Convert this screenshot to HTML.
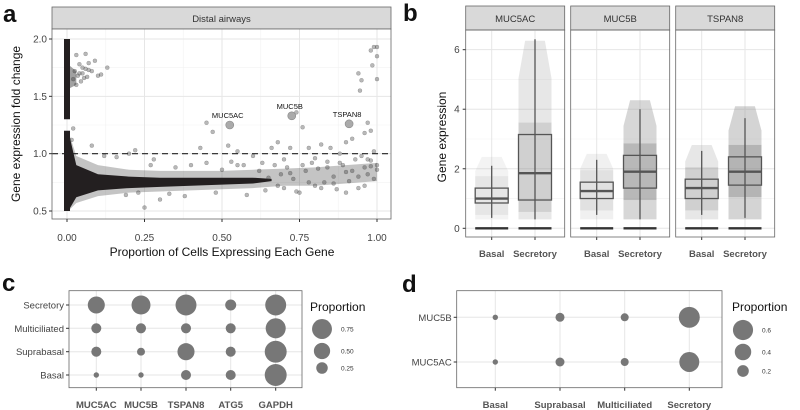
<!DOCTYPE html>
<html><head><meta charset="utf-8">
<style>
html,body{margin:0;padding:0;background:#fff;}
svg{display:block;font-family:"Liberation Sans",sans-serif;}
</style></head>
<body>
<svg id="fig" width="800" height="410" viewBox="0 0 800 410"></svg>
<script>
// ---------- Panel a data ----------
const aEnvP  = [0.004,0.03,0.1,0.2,0.3,0.4,0.5,0.6,0.66];
const aEnvLo = [0.5,0.62,0.68,0.7,0.71,0.72,0.73,0.74,0.76];
const aEnvHi = [1.2,0.9,0.82,0.8,0.79,0.79,0.79,0.79,0.78];
const aHaloP  = [0.004,0.03,0.1,0.2,0.3,0.4,0.5,0.6,0.7,0.8,0.9,1.0];
const aHaloLo = [0.5,0.57,0.63,0.66,0.67,0.68,0.69,0.7,0.72,0.72,0.74,0.76];
const aHaloHi = [1.2,0.98,0.9,0.86,0.85,0.85,0.85,0.86,0.87,0.88,0.9,0.92];
const aSpikeLo = [1.3];
const aSpikeHi = [2.0];
const aPointsX = [0.03,0.06,0.09,0.13,0.07,0.05,0.1,0.04,0.02,0.015,
 0.08,0.12,0.16,0.2,0.25,0.3,0.22,0.43,0.45,0.47,0.52,0.55,0.6,0.66,0.68,0.72,0.76,0.78,0.82,0.85,0.88,0.9,0.92,
 0.94,0.95,0.945,0.97,0.98,0.985,0.99,1.0,1.0,1.0,0.96,0.98,0.74,0.99,0.97,0.95,1.0,
 0.62,0.64,0.67,0.69,0.7,0.71,0.73,0.75,0.77,0.79,0.8,0.81,0.83,0.84,0.86,0.87,0.89,0.9,0.91,0.93,0.94,0.96,0.97,0.98,0.99,1.0,
 0.63,0.65,0.68,0.7,0.72,0.74,0.76,0.78,0.8,0.82,0.84,0.86,0.88,0.9,0.92,0.94,0.96,0.98,
 0.35,0.4,0.45,0.5,0.55,0.58,0.28,0.33,0.38,0.48,0.53,0.57,0.19,0.23,0.27,
 0.02,0.025,0.03,0.035,0.04,0.045,0.05,0.055,0.06,0.065,0.07,0.08,0.11];
const aPointsY = [1.86,1.87,1.81,1.75,1.79,1.75,1.68,1.7,1.22,1.12,
 1.07,0.98,0.97,1.0,0.53,0.6,1.03,1.05,1.27,1.19,1.07,1.02,0.98,1.05,1.1,1.05,1.23,1.05,1.08,1.05,1.0,1.1,1.13,
 1.7,1.64,1.55,1.27,1.9,1.77,1.93,1.85,1.65,1.93,1.18,1.2,1.36,1.02,0.95,0.98,0.9,
 0.85,0.68,0.9,0.82,0.7,0.88,0.78,0.66,0.85,0.92,0.72,0.87,0.75,0.93,0.8,0.69,0.9,0.84,0.76,0.95,0.7,0.88,0.82,0.94,0.78,0.86,
 0.92,0.79,0.72,0.95,0.83,0.67,0.9,0.75,0.96,0.7,0.88,0.74,0.92,0.66,0.85,0.8,0.72,0.89,
 0.88,0.9,0.92,0.86,0.9,0.64,0.95,0.65,0.63,0.66,0.93,0.9,0.64,0.66,0.9,
 1.65,1.72,1.6,1.68,1.78,1.63,1.7,1.66,1.74,1.67,1.73,1.72,1.69];
const aHighGenes = ["MUC5AC","MUC5B","TSPAN8"];
const aHighX = [0.525,0.725,0.91];
const aHighY = [1.25,1.33,1.26];
const aXTicks = [0,0.25,0.5,0.75,1];
const aXTickLabels = ["0.00","0.25","0.50","0.75","1.00"];
const aYTicks = [0.5,1.0,1.5,2.0];
const aYTickLabels = ["0.5","1.0","1.5","2.0"];

// ---------- Panel b data ----------
const bGenes = ["MUC5AC","MUC5B","TSPAN8"];
const bGroups = ["Basal","Secretory"];
const bQ1  = [[0.85,0.95],[1.0,1.35],[1.0,1.45]];
const bMed = [[1.0,1.85],[1.25,1.9],[1.35,1.9]];
const bQ3  = [[1.35,3.15],[1.55,2.45],[1.65,2.4]];
const bLo  = [[0.35,0.3],[0.45,0.3],[0.45,0.35]];
const bHi  = [[2.1,6.35],[2.3,4.0],[2.6,3.7]];
const bCloudHi = [[2.4,6.3],[2.5,4.3],[2.8,4.1]];
const bCloudDensity = [[0.2,0.4],[0.25,0.65],[0.4,0.7]];
const bYTicks = [0,2,4,6];

// ---------- Panel c data ----------
const cGenes = ["MUC5AC","MUC5B","TSPAN8","ATG5","GAPDH"];
const cCells = ["Secretory","Multiciliated","Suprabasal","Basal"];
const cProp = [
 [0.55,0.68,0.83,0.23,0.83],
 [0.19,0.19,0.19,0.19,0.76],
 [0.19,0.12,0.55,0.19,0.91],
 [0.055,0.055,0.19,0.19,0.91]];
const cLegend = [0.75,0.5,0.25];
const cLegendLabels = ["0.75","0.50","0.25"];

// ---------- Panel d data ----------
const dCells = ["Basal","Suprabasal","Multiciliated","Secretory"];
const dGenes = ["MUC5B","MUC5AC"];
const dProp = [
 [0.043,0.12,0.095,0.65],
 [0.043,0.12,0.095,0.59]];
const dLegend = [0.6,0.4,0.2];
const dLegendLabels = ["0.6","0.4","0.2"];

const NS="http://www.w3.org/2000/svg";
const svg=document.getElementById('fig');
function mk(tag,attrs,parent,text){const e=document.createElementNS(NS,tag);for(const k in attrs)e.setAttribute(k,attrs[k]);if(text!==undefined)e.textContent=text;(parent||svg).appendChild(e);return e;}

const letters=[["a",3,22],["b",403,21],["c",2,291],["d",402,292]];
letters.forEach(l=>{const t=mk('text',{x:l[1],y:l[2],'font-size':24,'font-weight':'bold',fill:'#111'},svg,l[0]);

});

// ===== Panel a =====
(function(){
 const g=mk('g',{});
 
 
 const L=52,R=391,T=29,B=219;
 const xa=p=>67+p*310, ya=v=>39+(2-v)/1.5*172;
 const strip=mk('rect',{x:L,y:7,width:R-L,height:T-7,fill:'#d9d9d9',stroke:'#666','stroke-width':0.8},g);
 
 
 mk('text',{x:(L+R)/2,y:22,'text-anchor':'middle','font-size':9.5,fill:'#333'},g,'Distal airways');
 mk('rect',{x:L,y:T,width:R-L,height:B-T,fill:'#fff'},g);
 [0.125,0.375,0.625,0.875].forEach(p=>mk('line',{x1:xa(p),x2:xa(p),y1:T,y2:B,stroke:'#f2f2f2','stroke-width':0.6},g));
 [0.75,1.25,1.75].forEach(v=>mk('line',{x1:L,x2:R,y1:ya(v),y2:ya(v),stroke:'#f2f2f2','stroke-width':0.6},g));
 aXTicks.forEach(p=>mk('line',{x1:xa(p),x2:xa(p),y1:T,y2:B,stroke:'#e6e6e6','stroke-width':1},g));
 aYTicks.forEach(v=>mk('line',{x1:L,x2:R,y1:ya(v),y2:ya(v),stroke:'#e6e6e6','stroke-width':1},g));
 function env(P,Lo,Hi){let d='M'+xa(P[0])+','+ya(Hi[0]);
  for(let i=1;i<P.length;i++)d+='L'+xa(P[i])+','+ya(Hi[i]);
  for(let i=P.length-1;i>=0;i--)d+='L'+xa(P[i])+','+ya(Lo[i]);
  return d+'Z';}
 const halo=mk('path',{d:env(aHaloP,aHaloLo,aHaloHi),fill:'#555','fill-opacity':0.35},g);
 
 
 const band=mk('path',{d:env(aEnvP,aEnvLo,aEnvHi),fill:'#231f20'},g);
 
 
 mk('path',{d:'M'+(xa(0)-2)+','+ya(1.8)+'L'+xa(0.03)+','+ya(1.72)+'L'+xa(0.03)+','+ya(1.6)+'L'+(xa(0)-2)+','+ya(1.55)+'Z',fill:'#444','fill-opacity':0.5},g);
 const sp=mk('rect',{x:xa(0)-3,y:ya(aSpikeHi[0]),width:6,height:ya(aSpikeLo[0])-ya(aSpikeHi[0]),fill:'#231f20'},g);
 
 
 mk('rect',{x:xa(0)-3,y:ya(1.2),width:6,height:ya(0.5)-ya(1.2),fill:'#231f20'},g);
 for(let i=0;i<aPointsX.length;i++){
  const c=mk('circle',{cx:xa(aPointsX[i]),cy:ya(aPointsY[i]),r:2,fill:'#333','fill-opacity':0.35,stroke:'#333','stroke-opacity':0.4,'stroke-width':0.4},g);
  
  
 }
 const dash=mk('line',{x1:L,x2:R,y1:ya(1),y2:ya(1),stroke:'#222','stroke-width':1.2,'stroke-dasharray':'6,4'},g);
 
 
 for(let i=0;i<aHighGenes.length;i++){
  const c=mk('circle',{cx:xa(aHighX[i]),cy:ya(aHighY[i]),r:4,fill:'#aaa',stroke:'#888','stroke-width':0.6},g);
  
  
  mk('text',{x:xa(aHighX[i])-2,y:ya(aHighY[i])-7,'text-anchor':'middle','font-size':7.5,fill:'#111'},g,aHighGenes[i]);
 }
 mk('rect',{x:L,y:T,width:R-L,height:B-T,fill:'none',stroke:'#666','stroke-width':0.8},g);
 aXTicks.forEach((p,i)=>{mk('line',{x1:xa(p),x2:xa(p),y1:B,y2:B+3,stroke:'#333'},g);
  mk('text',{x:xa(p),y:241,'text-anchor':'middle','font-size':10,fill:'#444'},g,aXTickLabels[i]);});
 aYTicks.forEach((v,i)=>{mk('line',{x1:L-3,x2:L,y1:ya(v),y2:ya(v),stroke:'#333'},g);
  mk('text',{x:L-5,y:ya(v)+3.5,'text-anchor':'end','font-size':10,fill:'#444'},g,aYTickLabels[i]);});
 const xt=mk('text',{x:222,y:256,'text-anchor':'middle','font-size':12,fill:'#111'},g,'Proportion of Cells Expressing Each Gene');
 
 
 const yt=mk('text',{x:0,y:0,'text-anchor':'middle','font-size':12,fill:'#111',transform:'translate(20,124) rotate(-90)'},g,'Gene expression fold change');
 
 
})();

// ===== Panel b =====
(function(){
 const g=mk('g',{});
 
 
 const lefts=[465.7,570.7,675.7], W=99, T=30, B=237;
 const yb=v=>228.3-v*29.77;
 bYTicks.forEach(v=>{mk('line',{x1:lefts[0]-3,x2:lefts[0],y1:yb(v),y2:yb(v),stroke:'#333'},g);
  mk('text',{x:lefts[0]-6,y:yb(v)+3.5,'text-anchor':'end','font-size':10,fill:'#444'},g,String(v));});
 const yt=mk('text',{x:0,y:0,'text-anchor':'middle','font-size':12,fill:'#111',transform:'translate(446,137) rotate(-90)'},g,'Gene expression');
 
 
 bGenes.forEach((gene,gi)=>{
  const L=lefts[gi];
  const st=mk('rect',{x:L,y:6,width:W,height:T-6,fill:'#d9d9d9',stroke:'#666','stroke-width':0.8},g);
  
  
  mk('text',{x:L+W/2,y:22,'text-anchor':'middle','font-size':9.5,fill:'#333'},g,gene);
  [1,3,5].forEach(v=>mk('line',{x1:L,x2:L+W,y1:yb(v),y2:yb(v),stroke:'#f2f2f2','stroke-width':0.6},g));
  bYTicks.forEach(v=>mk('line',{x1:L,x2:L+W,y1:yb(v),y2:yb(v),stroke:'#e6e6e6'},g));
  const xs=[L+26,L+69.3];
  xs.forEach(x=>mk('line',{x1:x,x2:x,y1:T,y2:B,stroke:'#e6e6e6'},g));
  bGroups.forEach((grp,k)=>{
   const x=xs[k], hw=16.5;
   const top=bCloudHi[gi][k];
   const cl=mk('path',{d:'M'+(x-hw*0.6)+','+yb(top)+'L'+(x+hw*0.6)+','+yb(top)+'L'+(x+hw)+','+yb(top*0.8)+'L'+(x+hw)+','+yb(0.3)+'L'+(x-hw)+','+yb(0.3)+'L'+(x-hw)+','+yb(top*0.8)+'Z',fill:'#999','fill-opacity':bCloudDensity[gi][k]*0.6},g);
   
   
   mk('rect',{x:x-hw,y:yb(bQ3[gi][k]+0.4),width:2*hw,height:yb(Math.max(bQ1[gi][k]-0.4,0.35))-yb(bQ3[gi][k]+0.4),fill:'#777','fill-opacity':bCloudDensity[gi][k]*0.5},g);
   mk('line',{x1:x,x2:x,y1:yb(bHi[gi][k]),y2:yb(bLo[gi][k]),stroke:'#555','stroke-width':1.3},g);
   const bx=mk('rect',{x:x-hw,y:yb(bQ3[gi][k]),width:2*hw,height:yb(bQ1[gi][k])-yb(bQ3[gi][k]),fill:'none',stroke:'#555','stroke-width':1.3},g);
   
   
   mk('line',{x1:x-hw,x2:x+hw,y1:yb(bMed[gi][k]),y2:yb(bMed[gi][k]),stroke:'#555','stroke-width':2.4},g);
   mk('line',{x1:x-hw,x2:x+hw,y1:yb(0),y2:yb(0),stroke:'#333','stroke-width':2.4},g);
   mk('line',{x1:x,x2:x,y1:B,y2:B+3,stroke:'#333'},g);
   mk('text',{x:x,y:257,'text-anchor':'middle','font-size':9.5,'font-weight':'bold',fill:'#555'},g,grp);
  });
  mk('rect',{x:L,y:T,width:W,height:B-T,fill:'none',stroke:'#666','stroke-width':0.8},g);
 });
})();

// ===== Dot plots =====
function dotPanel(name,L,R,T,B,xsPos,ysPos,xLabels,yLabels,vals,rScale,legVals,legLabels,legX,legYs,legTitleX){
 const g=mk('g',{});
 
 
 xsPos.forEach(x=>mk('line',{x1:x,x2:x,y1:T,y2:B,stroke:'#e6e6e6'},g));
 ysPos.forEach(y=>mk('line',{x1:L,x2:R,y1:y,y2:y,stroke:'#e6e6e6'},g));
 for(let r=0;r<ysPos.length;r++)for(let c=0;c<xsPos.length;c++){
  const d=mk('circle',{cx:xsPos[c],cy:ysPos[r],r:rScale(vals[r][c]),fill:'#777'},g);
  
  
 }
 mk('rect',{x:L,y:T,width:R-L,height:B-T,fill:'none',stroke:'#666','stroke-width':0.8},g);
 ysPos.forEach((y,i)=>{mk('line',{x1:L-3,x2:L,y1:y,y2:y,stroke:'#333'},g);
  mk('text',{x:L-5,y:y+3.5,'text-anchor':'end','font-size':9.5,fill:'#444'},g,yLabels[i]);});
 xsPos.forEach((x,i)=>{mk('line',{x1:x,x2:x,y1:B,y2:B+3,stroke:'#333'},g);
  mk('text',{x:x,y:408,'text-anchor':'middle','font-size':9.5,'font-weight':'bold',fill:'#555'},g,xLabels[i]);});
 const lt=mk('text',{x:legTitleX,y:311,'font-size':12,fill:'#111'},g,'Proportion');
 
 
 legVals.forEach((v,i)=>{
  const c=mk('circle',{cx:legX,cy:legYs[i],r:rScale(v),fill:'#777'},g);
  
  
  mk('text',{x:legX+19,y:legYs[i]+2.5,'font-size':6.5,fill:'#333'},g,legLabels[i]);
 });
}
dotPanel('panel-c-dotplot',69,302,290.7,387.7,[96.3,141,186,230.7,275.7],[305,328.3,351.7,375],
 cGenes,cCells,cProp,p=>11.5*Math.sqrt(p),cLegend,cLegendLabels,322,[329,351,368],310);
dotPanel('panel-d-dotplot',456.7,722,290.7,387.7,[495.3,560,624.7,689.3],[317.3,362],
 dCells,dGenes,dProp,p=>13*Math.sqrt(p),dLegend,dLegendLabels,743,[330,352,371],732);
</script>
</body></html>
